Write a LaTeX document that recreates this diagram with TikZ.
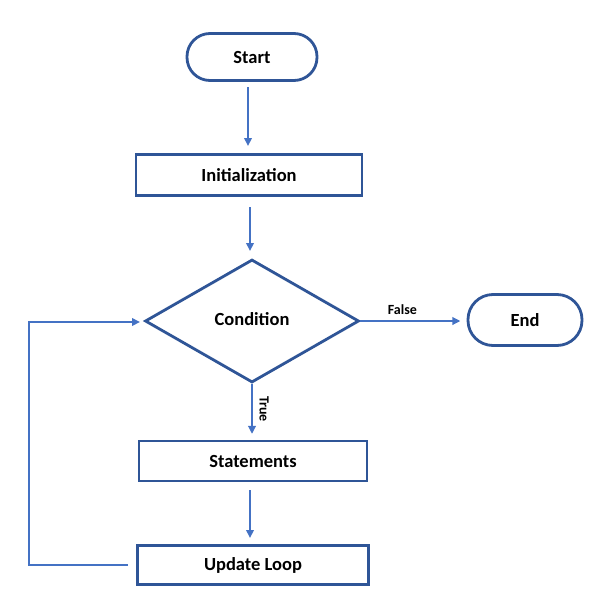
\documentclass[tikz,border=0pt]{standalone}
\usepackage{fontspec}
\setmainfont{Carlito}
\usetikzlibrary{shapes.geometric,arrows.meta}
\definecolor{boxblue}{HTML}{2F5597}
\definecolor{arrblue}{HTML}{4472C4}
\begin{document}
\begin{tikzpicture}[x=1pt,y=-1pt,
  base/.style={draw=boxblue,line width=2.8pt,fill=white,font=\bfseries\fontsize{18.5}{22}\selectfont,inner sep=0pt},
  term/.style={base,rounded corners=23pt},
  proc/.style={base},
  dec/.style={base,diamond,aspect=1.74},
  conn/.style={draw=arrblue,line width=2.5pt,-{Triangle[length=8pt,width=7.5pt]}},
  lbl/.style={font=\bfseries\fontsize{14}{16}\selectfont}]
\useasboundingbox (0,0) rectangle (600,600);
\node[term,minimum width=130pt,minimum height=47pt] (start) at (252,57) {Start};
\node[proc,minimum width=226pt,minimum height=41pt] (init) at (249,175) {Initialization};
\node[dec,minimum width=214pt,minimum height=123pt] (cond) at (252,321) {\raisebox{4pt}{Condition}};
\node[term,rounded corners=25pt,minimum width=114pt,minimum height=51pt] (end) at (525,320) {End};
\node[proc,minimum width=228pt,minimum height=40pt] (stmt) at (253,461) {Statements};
\node[proc,minimum width=231pt,minimum height=39pt] (upd) at (253,565) {Update Loop};
\coordinate (a1) at (248,87); \coordinate (a2) at (248,146);
\coordinate (b1) at (250,207); \coordinate (b2) at (250,251);
\coordinate (s1) at (250,490); \coordinate (s2) at (250,538);
\coordinate (l0) at (128,565); \coordinate (l1) at (29,565); \coordinate (l2) at (29,322); \coordinate (l3) at (140,322);
\draw[conn] (a1) -- (a2);
\draw[conn] (b1) -- (b2);
\draw[conn] (cond.east) -- ++(100,0) coordinate (f2) node[lbl,midway,above=2pt,xshift=-8pt] {False};
\draw[conn] (cond.south) -- ++(0,50) node[lbl,midway,right=3pt,rotate=-90,anchor=south] {True};
\draw[conn] (s1) -- (s2);
\draw[conn] (l0) -- (l1) -- (l2) -- (l3);
\end{tikzpicture}
\end{document}
